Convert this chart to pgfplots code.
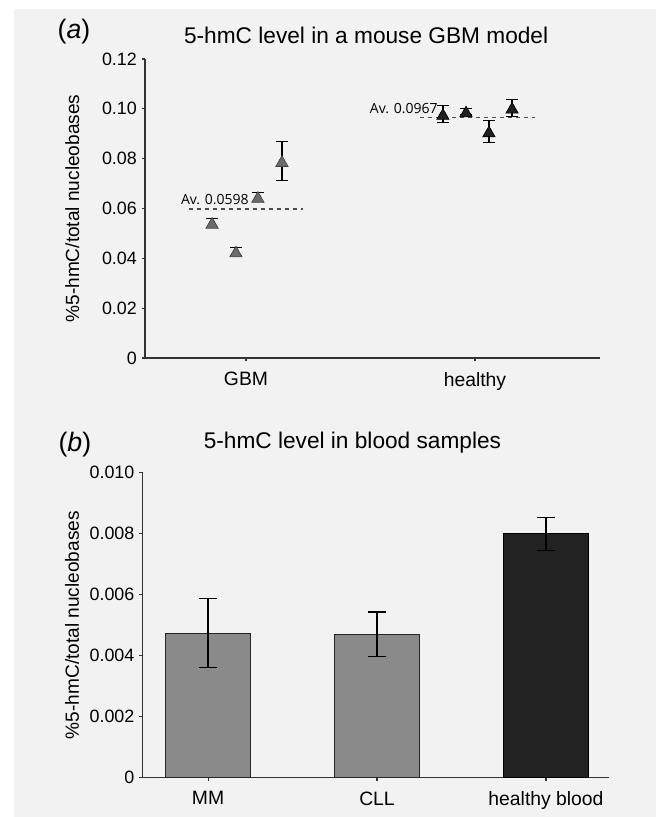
\documentclass[border=0pt]{standalone}
\usepackage{pgfplots}
\pgfplotsset{compat=1.18}
\usepackage{fontspec}
\setmainfont{Liberation Sans}
\newfontfamily\avfont{Open Sans}
\definecolor{bg}{HTML}{F2F2F2}
\definecolor{axisgray}{HTML}{333333}
\definecolor{gbmgray}{HTML}{6B6B6B}
\definecolor{barlight}{HTML}{8A8A8A}
\definecolor{bardark}{HTML}{222222}
\pgfplotsset{
  myaxis/.style={
    scale only axis,
    axis x line*=bottom, axis y line*=left,
    axis line style={axisgray, line width=0.9pt},
    tick align=outside,
    major tick length=2.6pt,
    tick style={axisgray, line width=0.8pt},
    ymin=0,
    scaled y ticks=false,
    yticklabel style={font=\fontsize{13.4}{15}\selectfont},
    xticklabel style={font=\fontsize{14.5}{17}\selectfont, yshift=-4.5pt},
    ylabel style={font=\fontsize{14.3}{17}\selectfont, anchor=center},
    title style={font=\fontsize{17}{20}\selectfont, anchor=center, yshift=-6pt},
    clip=false,
  }
}
\begin{document}
\begin{tikzpicture}
\fill[white] (0,0) rectangle (492pt,612.75pt);
\fill[bg] (10.5pt,0) rectangle (492pt,606pt);
\useasboundingbox (0,0) rectangle (492pt,612.75pt);

% ---------- panel (a)
\begin{axis}[myaxis,
  at={(108.75pt,344.25pt)}, anchor=south west,
  width=341.25pt, height=224.25pt,
  xmin=-0.441, xmax=1.546, ymax=0.12,
  xtick={0,1}, xticklabels={GBM,healthy},
  ytick={0,0.02,0.04,0.06,0.08,0.1,0.12},
  yticklabels={0,0.02,0.04,0.06,0.08,0.10,0.12},
  ylabel={\%5-hmC/total nucleobases},
  ylabel style={at={(axis description cs:-0.160,0.5)}},
  title={5-hmC level in a mouse GBM model},
  title style={at={(axis description cs:0.486,1.080)}},
]
\addplot[forget plot, only marks, mark=none,
  error bars/.cd, y dir=both, y explicit,
  error bar style={line width=0.9pt, black},
  error mark options={rotate=90, mark size=4.5pt, line width=0.9pt, black}]
  table[x=x, y=y, y error=e] {
x y e
-0.148 0.0542 0.0017
-0.044 0.0427 0.0017
0.052 0.0646 0.0019
0.157 0.0790 0.0079
};
\addplot[forget plot, only marks, mark=none,
  error bars/.cd, y dir=both, y explicit,
  error bar style={line width=0.9pt, black},
  error mark options={rotate=90, mark size=4.5pt, line width=0.9pt, black}]
  table[x=x, y=y, y error=e] {
x y e
0.860 0.0979 0.0034
0.961 0.0989 0.0013
1.061 0.0909 0.0044
1.162 0.1004 0.0035
};
\addplot[only marks, mark=triangle*, mark size=5.3pt,
  mark options={fill=gbmgray, draw=black!75, line width=0.5pt, yshift=-1.3pt}]
  table[x=x, y=y] {
x y
-0.148 0.0542
-0.044 0.0427
0.052 0.0646
0.157 0.0790
};
\addplot[only marks, mark=triangle*, mark size=5.3pt,
  mark options={fill=black!88, draw=black, line width=0.5pt, yshift=-1.3pt}]
  table[x=x, y=y] {
x y
0.860 0.0979
0.961 0.0989
1.061 0.0909
1.162 0.1004
};
\addplot[black!70, line width=0.8pt, dash pattern=on 3pt off 3pt]
  coordinates {(-0.249,0.0598) (0.249,0.0598)};
\addplot[black!70, line width=0.8pt, dash pattern=on 3pt off 3pt]
  coordinates {(0.76,0.0967) (1.26,0.0967)};
\node[anchor=east, inner sep=0pt, font=\avfont\fontsize{10.5}{12}\selectfont]
  at (axis cs:0.013,0.0635) {Av. 0.0598};
\node[anchor=east, inner sep=0pt, font=\avfont\fontsize{10.5}{12}\selectfont]
  at (axis cs:0.838,0.1003) {Av. 0.0967};
\node[font=\fontsize{20}{23}\selectfont] at (axis description cs:-0.156,1.090) {(\textit{a})};
\end{axis}

% ---------- panel (b)
\begin{axis}[myaxis,
  at={(106.875pt,29.625pt)}, anchor=south west,
  width=349.875pt, height=228.6pt,
  xmin=-0.388, xmax=2.373, ymax=0.010,
  xtick={0,1,2}, xticklabels={MM,CLL,healthy blood},
  ytick={0,0.002,0.004,0.006,0.008,0.01},
  yticklabels={0,0.002,0.004,0.006,0.008,0.010},
  ylabel={\%5-hmC/total nucleobases},
  ylabel style={at={(axis description cs:-0.151,0.5)}},
  title={5-hmC level in blood samples},
  title style={at={(axis description cs:0.450,1.097)}},
]
\addplot[ybar, bar width=0.503, bar shift=0pt, fill=barlight, draw=black!85, line width=0.75pt,
  error bars/.cd, y dir=both, y explicit,
  error bar style={line width=0.9pt, black},
  error mark options={rotate=90, mark size=6.75pt, line width=0.9pt, black}]
  table[x=x, y=y, y error=e] {
x y e
0 0.00474 0.00112
1 0.00470 0.00073
};
\addplot[ybar, bar width=0.503, bar shift=0pt, fill=bardark, draw=black, line width=0.75pt,
  error bars/.cd, y dir=both, y explicit,
  error bar style={line width=0.9pt, black},
  error mark options={rotate=90, mark size=6.75pt, line width=0.9pt, black}]
  table[x=x, y=y, y error=e] {
x y e
2 0.00799 0.00054
};
\node[font=\fontsize{20}{23}\selectfont] at (axis description cs:-0.145,1.091) {(\textit{b})};
\end{axis}
\end{tikzpicture}
\end{document}
